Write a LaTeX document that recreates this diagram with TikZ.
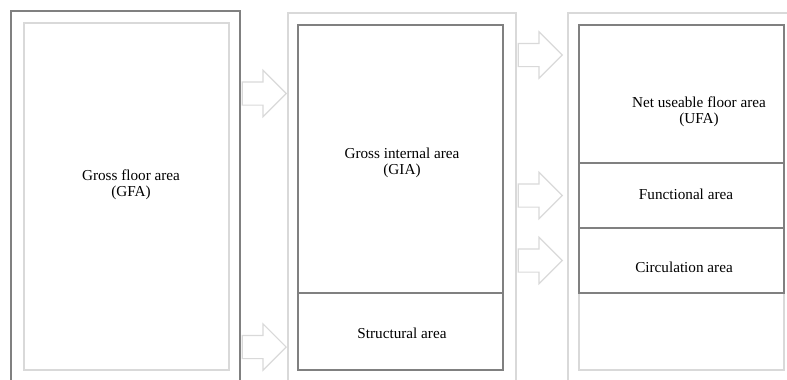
\documentclass[tikz,border=0pt]{standalone}
\usepackage{fontspec}
\setmainfont{Liberation Serif}
\usetikzlibrary{shapes.arrows,positioning}

\begin{document}
\begin{tikzpicture}[x=1pt, y=-1pt,
  dark/.style={draw=black!50, line width=1.5pt, inner sep=0pt, outer sep=0pt, anchor=north west},
  light/.style={draw=black!15, line width=1.5pt, inner sep=0pt, outer sep=0pt, anchor=north west},
  blockarrow/.style={single arrow, draw=black!15, line width=1.2pt, inner xsep=0pt, inner ysep=11pt,
    minimum height=44pt, single arrow head extend=11.5pt, anchor=tip},
  lab/.style={align=center, font=\fontsize{15.2}{16.5}\selectfont}]
  \clip (0,0) rectangle (787,380);
  % gross floor area
  \node[dark, minimum width=229pt, minimum height=420pt] (gfaout) at (11,11) {};
  \node[light, minimum width=205pt, minimum height=347pt] (gfa) at (24,23) {};
  \node[lab] (gfalab) at (131,185) {Gross floor area\\(GFA)};
  % gross internal area
  \node[light, minimum width=228pt, minimum height=420pt] (giaout) at (288,13) {};
  \node[dark, minimum width=205pt, minimum height=268pt] (gia) at (298,25) {};
  \node[dark, minimum width=205pt, minimum height=77pt] (struct) at (298,293) {};
  \node[lab] (gialab) at (402,163) {Gross internal area\\(GIA)};
  \node[lab] (structlab) at (402,333) {Structural area};
  % net useable floor area
  \node[light, minimum width=240pt, minimum height=420pt] (ufaout) at (568,13) {};
  \node[light, minimum width=205pt, minimum height=345pt] (rest) at (579,25) {};
  \node[dark, minimum width=205pt, minimum height=138pt] (ufa) at (579,25) {};
  \node[dark, minimum width=205pt, minimum height=65pt] (func) at (579,163) {};
  \node[dark, minimum width=205pt, minimum height=65pt] (circ) at (579,228) {};
  \node[lab] (ufalab) at (699,112) {Net useable floor area\\(UFA)};
  \node[lab] (funclab) at (686,194) {Functional area};
  \node[lab] (circlab) at (684,267) {Circulation area};
  % arrows
  \node[blockarrow] (arrgia) at (287,93.5) {};
  \node[blockarrow] (arrstruct) at (287,347) {};
  \node[blockarrow] (arrufa) at (563,55) {};
  \node[blockarrow] (arrfunc) at (563,195.5) {};
  \node[blockarrow] (arrcirc) at (563,260.5) {};
\end{tikzpicture}
\end{document}
